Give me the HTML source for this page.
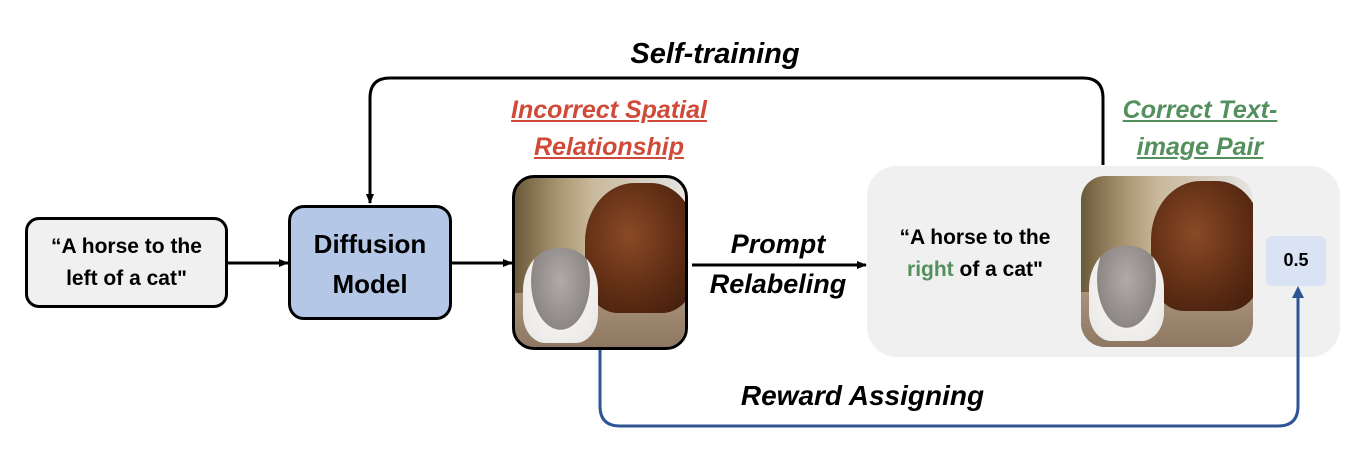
<!DOCTYPE html>
<html><head><meta charset="utf-8"><style>
body{margin:0;width:1365px;height:456px;background:#fff;position:relative;overflow:hidden;font-family:"Liberation Sans","DejaVu Sans",sans-serif}
.a{position:absolute}
.t{position:absolute;text-align:center;font-weight:bold;white-space:nowrap}
.bi{font-style:italic;font-weight:bold}
.img{position:absolute;overflow:hidden;background:linear-gradient(90deg,#6b5a3a 0%,#a89470 25%,#c9b89a 45%,#d8d2c8 80%,#e8e6e2 100%)}
.horse{position:absolute;background:radial-gradient(ellipse at 40% 40%,#8a4a26,#5a2a12 60%,#3a1c0c);border-radius:45% 40% 30% 30%}
.ground{position:absolute;left:0;right:0;bottom:0;height:32%;background:linear-gradient(#a8927a,#8e7862)}
.cat{position:absolute;background:radial-gradient(ellipse at 50% 35%,#b0aaa8,#8c8684 55%,#f2f0ee 56%,#e8e6e4);border-radius:45% 45% 30% 30%}
</style></head><body>
<div class="a" style="left:867px;top:166px;width:473px;height:191px;background:#f0f0f0;border-radius:30px"></div>
<svg class="a" style="left:0;top:0;z-index:5" width="1365" height="456">
<defs>
<marker id="m" markerWidth="10" markerHeight="10" refX="9" refY="5" orient="auto" markerUnits="userSpaceOnUse"><path d="M0,1 L10,5 L0,9 z" fill="#000"/></marker>
</defs>
<line x1="228" y1="263" x2="288" y2="263" stroke="#000" stroke-width="3" marker-end="url(#m)"/>
<line x1="452" y1="263" x2="512" y2="263" stroke="#000" stroke-width="3" marker-end="url(#m)"/>
<line x1="692" y1="265" x2="866" y2="265" stroke="#000" stroke-width="3" marker-end="url(#m)"/>
<path d="M1103,165 V98 Q1103,78 1083,78 H390 Q370,78 370,98 V203" fill="none" stroke="#000" stroke-width="3" marker-end="url(#m)"/>
<path d="M600,350 V406 Q600,426 620,426 H1278 Q1298,426 1298,406 V296" fill="none" stroke="#2f5597" stroke-width="3"/>
<path d="M1292,298 L1298,286 L1304,298 z" fill="#2f5597"/>
</svg>
<div class="a" style="left:25px;top:217px;width:197px;height:85px;background:#f0f0f0;border:3px solid #000;border-radius:14px"></div>
<div class="t" style="left:25px;top:231px;width:203px;font-size:21px;line-height:32px">“A horse to the<br>left of a cat"</div>
<div class="a" style="left:288px;top:205px;width:158px;height:109px;background:#b4c7e7;border:3px solid #000;border-radius:16px"></div>
<div class="t" style="left:288px;top:224px;width:164px;font-size:26px;line-height:40px">Diffusion<br>Model</div>
<div class="t bi" style="left:500px;top:38px;width:430px;font-size:29px">Self-training</div>
<div class="t bi" style="left:480px;top:92px;width:258px;font-size:25px;line-height:37px;color:#d04a3a;text-decoration:underline">Incorrect Spatial<br>Relationship</div>
<div class="t bi" style="left:1080px;top:92px;width:240px;font-size:25px;line-height:37px;color:#548f5e;text-decoration:underline">Correct Text-<br>image Pair</div>
<div class="img" style="left:512px;top:175px;width:170px;height:169px;border:3px solid #000;border-radius:22px">
<div class="ground"></div><div class="horse" style="left:70px;top:5px;width:110px;height:130px"></div><div class="cat" style="left:8px;top:70px;width:75px;height:95px"></div></div>
<div class="t bi" style="left:680px;top:224px;width:196px;font-size:27px;line-height:40px">Prompt<br>Relabeling</div>
<div class="t" style="left:870px;top:222px;width:210px;font-size:21px;line-height:32px">“A horse to the<br><span style="color:#548f5e">right</span> of a cat"</div>
<div class="img" style="left:1081px;top:176px;width:172px;height:171px;border-radius:24px">
<div class="ground"></div><div class="horse" style="left:70px;top:5px;width:110px;height:130px"></div><div class="cat" style="left:8px;top:70px;width:75px;height:95px"></div></div>
<div class="a" style="left:1266px;top:236px;width:60px;height:50px;background:#dae3f3;border-radius:6px"></div>
<div class="t" style="left:1266px;top:250px;width:60px;font-size:18px">0.5</div>
<div class="t bi" style="left:690px;top:380px;width:345px;font-size:28px">Reward Assigning</div>
</body></html>
